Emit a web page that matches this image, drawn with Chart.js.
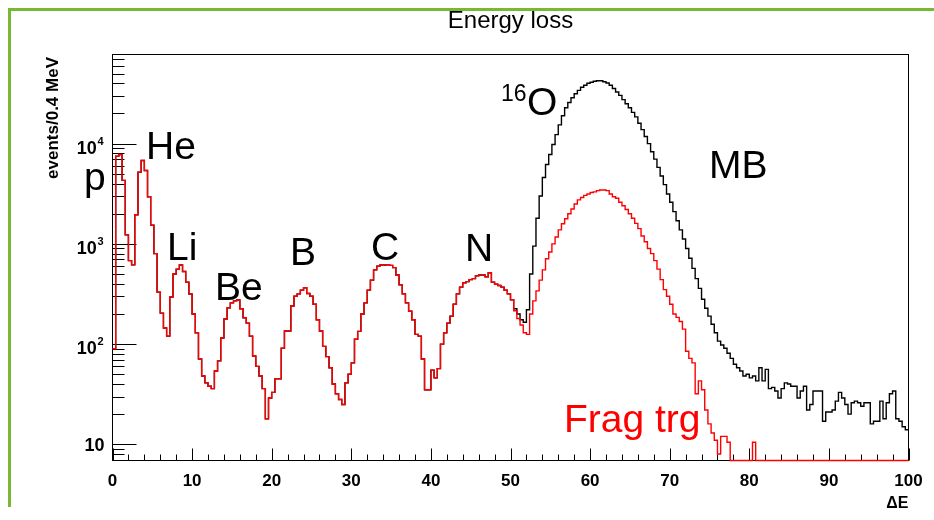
<!DOCTYPE html>
<html>
<head>
<meta charset="utf-8">
<title>Energy loss</title>
<script src="https://cdn.jsdelivr.net/npm/chart.js@4.4.1/dist/chart.umd.min.js"></script>
<style>
  body { margin: 0; background: #ffffff; }
  #wrap { width: 934px; height: 520px; }
</style>
</head>
<body>
<div id="wrap"><canvas id="myChart" width="934" height="520"></canvas></div>
<script>
// histogram binning (Delta E, MeV)
const binWidth = 0.4;
const xMin = 0;
const xMax = 100;
const yMin = 6.9;
const yMax = 77500;

// bins 0-125 (0 - 50.4 MeV): fragment peaks, same for both triggers
const fragmentPeaks = [
  90, 7500, 7800, 4300, 1230, 680, 620, 1950, 5200, 6800,
  5400, 2950, 1540, 800, 330, 204, 145, 120, 295, 500,
  560, 615, 530, 415, 316, 200, 130, 71, 48, 41,
  38, 36, 54, 68, 115, 178, 230, 258, 270, 275,
  225, 183, 162, 120, 76, 60, 48, 36, 18, 29,
  33, 45, 45, 91, 135, 135, 240, 300, 317, 345,
  365, 320, 300, 250, 175, 135, 95, 75, 58, 40,
  32, 28, 25, 41, 50, 65, 112, 134, 200, 258,
  345, 435, 550, 600, 615, 615, 620, 610, 580, 490,
  390, 317, 258, 213, 175, 125, 120, 71, 35, 35,
  55, 46, 57, 100, 130, 162, 190, 250, 317, 370,
  410, 420, 440, 450, 480, 490, 490, 470, 515, 415,
  395, 385, 370, 345, 317, 277
];

// bins 126-249, minimum bias trigger (black)
const mbTail = [
  225, 200, 175, 165,
  220, 500, 950, 1800, 3000, 4600, 6200, 7800, 9800, 12300,
  15400, 19000, 22800, 25700, 28700, 31500, 34000, 36500, 38300, 40000,
  41000, 41900, 42400, 42400, 41500, 40200, 38300, 35500, 32800, 30300,
  27500, 25000, 22800, 20500, 18500, 16000, 13800, 11800, 10000, 8300,
  7000, 5800, 4750, 3900, 3150, 2600, 2100, 1700, 1380, 1120,
  900, 720, 570, 450, 360, 280, 228, 190, 158, 130,
  107, 98, 91, 81, 72, 63, 58, 54, 48, 50,
  46, 48, 43, 58, 43, 56, 36, 37, 34, 29,
  36, 41, 40, 38, 38, 29, 34, 38, 22, 25,
  34, 34, 34, 17, 21, 21, 22, 27, 33, 29,
  25, 20, 26, 27, 26, 24, 26, 26, 16, 17,
  17, 27, 18, 26, 32, 34, 18, 17, 15, 14
];

// bins 126-249, fragmentation trigger (red)
const fragTail = [
  215, 180, 155, 130,
  125, 200, 270, 340, 435, 550, 710, 830, 1000, 1170,
  1380, 1590, 1780, 2000, 2230, 2500, 2750, 2900, 3050, 3150,
  3250, 3300, 3400, 3450, 3450, 3400, 3150, 2950, 2850, 2600,
  2400, 2200, 2000, 1800, 1600, 1420, 1200, 1050, 900, 800,
  680, 560, 440, 350, 300, 250, 200, 185, 168, 141,
  85, 72, 65, 32, 43, 35, 22, 16, 13, 11,
  8, 12, 12, 10.5, 0, 0, 0, 0, 0, 0,
  0, 10.5, 0, 0, 0, 0, 0, 0, 0, 0,
  0, 0, 0, 0, 0, 0, 0, 0, 0, 0,
  0, 0, 0, 0, 0, 0, 0, 0, 0, 0,
  0, 0, 0, 0, 0, 0, 0, 0, 0, 0,
  0, 0, 0, 0, 0, 0, 0, 0, 0, 0
];

const mbCounts = fragmentPeaks.concat(mbTail);
const fragCounts = fragmentPeaks.concat(fragTail);

const xTickLabels = ['0', '10', '20', '30', '40', '50', '60', '70', '80', '90', '100'];
const yDecades = [1, 2, 3, 4];

const FONT = '"Liberation Sans", Arial, Helvetica, sans-serif';

// text placed on the pad, like the ROOT TLatex labels
const peakLabels = [
  { text: 'p', x: 84, y: 190 },
  { text: 'He', x: 146, y: 159 },
  { text: 'Li', x: 167, y: 260 },
  { text: 'Be', x: 215, y: 300 },
  { text: 'B', x: 290, y: 265 },
  { text: 'C', x: 371, y: 260 },
  { text: 'N', x: 465, y: 261 },
  { text: 'O', x: 527, y: 115 },
  { text: 'MB', x: 709, y: 178 }
];

// one point per left bin edge, plus the right edge of the last bin
// empty bins sit on the bottom of the frame, as ROOT draws them
function histPoints(counts) {
  const pts = counts.map((c, i) => ({ x: xMin + i * binWidth, y: Math.max(c, yMin) }));
  pts.push({ x: xMin + counts.length * binWidth, y: Math.max(counts[counts.length - 1], yMin) });
  return pts;
}

const rootStyle = {
  id: 'rootStyle',
  beforeDatasetsDraw(chart) {
    const ctx = chart.ctx;
    const a = chart.chartArea;
    const xs = chart.scales.x;
    const ys = chart.scales.y;
    ctx.save();
    ctx.strokeStyle = '#000';
    ctx.lineWidth = 1;
    ctx.strokeRect(a.left, a.top, a.right - a.left, a.bottom - a.top);

    ctx.beginPath();
    xs.ticks.forEach(t => {
      const px = Math.round(xs.getPixelForValue(t.value)) + 0.5;
      const len = t.value % 10 === 0 ? 12 : 6;
      ctx.moveTo(px, a.bottom);
      ctx.lineTo(px, a.bottom - len);
    });
    for (let e = 0; e <= 4; e++) {
      for (let m = 1; m <= 9; m++) {
        const v = m * Math.pow(10, e);
        if (v < yMin || v > yMax) continue;
        const py = Math.round(ys.getPixelForValue(v)) + 0.5;
        const len = m === 1 ? 24 : 12;
        ctx.moveTo(a.left, py);
        ctx.lineTo(a.left + len, py);
      }
    }
    ctx.stroke();
    ctx.restore();
  },
  afterDatasetsDraw(chart) {
    const ctx = chart.ctx;
    const a = chart.chartArea;
    const ys = chart.scales.y;
    ctx.save();
    ctx.fillStyle = '#000';

    // y tick labels 10, 10^2 ...
    yDecades.forEach(e => {
      const py = ys.getPixelForValue(Math.pow(10, e));
      ctx.textBaseline = 'alphabetic';
      ctx.textAlign = 'right';
      if (e === 1) {
        ctx.font = 'bold 18px ' + FONT;
        ctx.fillText('10', a.left - 8, py + 7);
      } else {
        ctx.font = 'bold 11px ' + FONT;
        const ew = ctx.measureText(String(e)).width;
        ctx.fillText(String(e), a.left - 9, py + 1);
        ctx.font = 'bold 18px ' + FONT;
        ctx.fillText('10', a.left - 9 - ew - 0.5, py + 10);
      }
    });

    // axis titles
    ctx.font = 'bold 16px ' + FONT;
    ctx.textAlign = 'right';
    ctx.fillText('\u0394E', a.right, 508);
    ctx.save();
    ctx.translate(58, 57);
    ctx.rotate(-Math.PI / 2);
    ctx.font = 'bold 17px ' + FONT;
    ctx.textAlign = 'right';
    ctx.fillText('events/0.4 MeV', 0, 0);
    ctx.restore();

    // histogram title
    ctx.font = '24px ' + FONT;
    ctx.textAlign = 'center';
    ctx.fillText('Energy loss', (a.left + a.right) / 2, 28);

    // peak labels
    ctx.textAlign = 'left';
    ctx.font = '39px ' + FONT;
    peakLabels.forEach(l => ctx.fillText(l.text, l.x, l.y));
    ctx.font = '23px ' + FONT;
    ctx.fillText('16', 501, 101);
    ctx.fillStyle = '#ff0000';
    ctx.font = '39px ' + FONT;
    ctx.fillText('Frag trg', 564, 432);

    // green slide border
    ctx.strokeStyle = '#78b833';
    ctx.lineWidth = 3;
    ctx.beginPath();
    ctx.moveTo(9.5, 507);
    ctx.lineTo(9.5, 9.5);
    ctx.lineTo(934, 9.5);
    ctx.stroke();
    ctx.restore();
  }
};

var ctx = document.getElementById('myChart').getContext('2d');
var chart = new Chart(ctx, {
  type: 'line',
  data: {
    datasets: [{
      label: 'Frag trg',
      data: histPoints(fragCounts),
      borderColor: '#ff0000',
      borderWidth: 1.4,
      stepped: 'before',
      pointRadius: 0,
      fill: false,
      clip: false,
      order: 0
    }, {
      label: 'MB',
      data: histPoints(mbCounts),
      borderColor: '#000000',
      borderWidth: 1.4,
      stepped: 'before',
      pointRadius: 0,
      fill: false,
      clip: false,
      order: 1
    }]
  },
  options: {
    responsive: false,
    devicePixelRatio: 1,
    animation: false,
    events: [],
    layout: { padding: { left: 0, right: 25.5, top: 54.5, bottom: 0 } },
    plugins: {
      legend: { display: false },
      title: { display: false },
      tooltip: { enabled: false }
    },
    scales: {
      x: {
        type: 'linear',
        min: xMin,
        max: xMax,
        grid: { display: false },
        border: { display: false },
        ticks: {
          stepSize: 2,
          autoSkip: false,
          maxRotation: 0,
          padding: 3,
          color: '#000',
          font: { family: FONT, size: 17, weight: 'bold' },
          callback: v => (v % 10 === 0 ? xTickLabels[v / 10] : '')
        },
        afterFit: s => { s.height = 59.5; }
      },
      y: {
        type: 'logarithmic',
        min: yMin,
        max: yMax,
        grid: { display: false },
        border: { display: false },
        ticks: { display: false, autoSkip: false },
        afterFit: s => { s.width = 112.5; }
      }
    }
  },
  plugins: [rootStyle]
});
</script>
</body>
</html>
